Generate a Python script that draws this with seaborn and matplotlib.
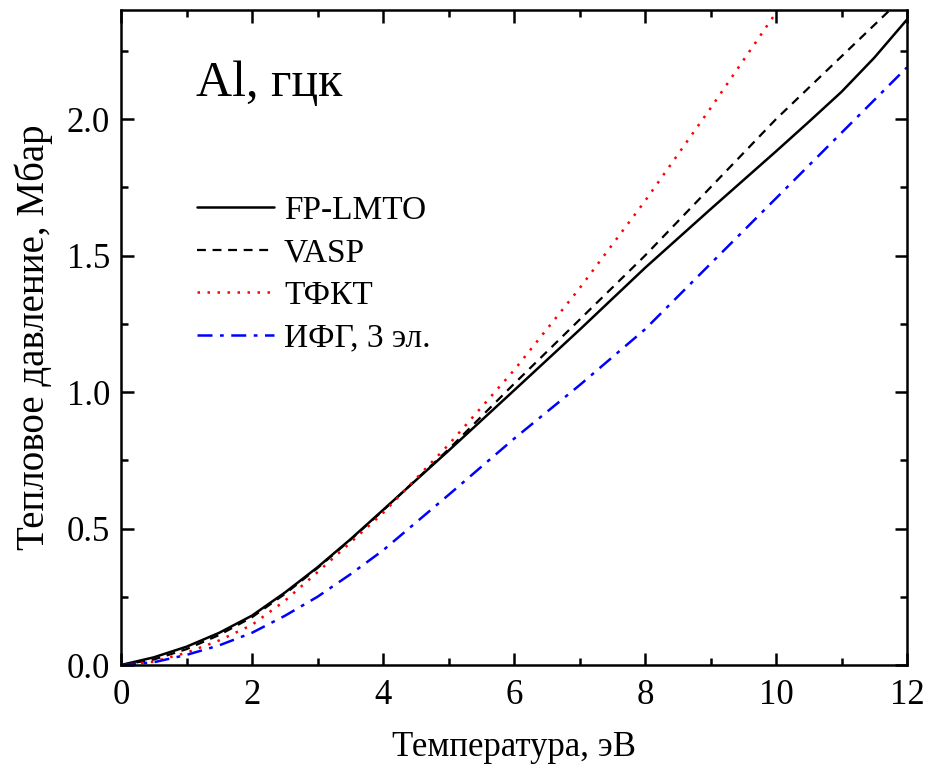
import numpy as np
import pandas as pd
import matplotlib
matplotlib.use("Agg")
import matplotlib.pyplot as plt
import seaborn as sns
from matplotlib.ticker import MultipleLocator

# Data
T = [0, 0.5, 1, 1.5, 2, 2.5, 3, 3.5, 4, 5, 6, 7, 8, 9, 10, 10.5, 11, 11.5, 12]
fp_lmto = [0, 0.028, 0.067, 0.118, 0.181, 0.265, 0.358, 0.46, 0.568, 0.785, 1.006, 1.228, 1.455, 1.67, 1.882, 1.99, 2.10, 2.225, 2.365]
vasp = [0, 0.020, 0.058, 0.110, 0.175, 0.260, 0.355, 0.458, 0.566, 0.790, 1.030, 1.265, 1.500, 1.750, 2.000, 2.115, 2.230, 2.345, 2.460]
tfkt = [0, 0.012, 0.045, 0.090, 0.147, 0.235, 0.340, 0.448, 0.557, 0.807, 1.080, 1.380, 1.700, 2.040, 2.390, 2.57, 2.75, 2.93, 3.1]
ifg = [0, 0.010, 0.037, 0.072, 0.118, 0.180, 0.250, 0.332, 0.420, 0.623, 0.829, 1.025, 1.230, 1.470, 1.710, 1.830, 1.950, 2.070, 2.190]

labels = ["FP-LMTO", "VASP", "ТФКТ", "ИФГ, 3 эл."]
series = [fp_lmto, vasp, tfkt, ifg]
colors = ["black", "black", "red", "blue"]
styles = ["-", (0, (4, 3)), (0, (1, 3)), (0, (6, 3, 1.5, 3))]
widths = [1.8, 1.6, 1.8, 1.8]

sns.set_style("ticks")
plt.rcParams["font.family"] = ["Liberation Serif", "DejaVu Serif"]
for k in ["text.color", "axes.labelcolor", "xtick.color", "ytick.color", "axes.edgecolor"]:
    plt.rcParams[k] = "black"

fig = plt.figure(figsize=(9.27, 7.64), dpi=100)
ax = fig.add_axes([121 / 927, 1 - 665 / 764, (907 - 121) / 927, (665 - 10) / 764])

for lab, vals, c, ls, lw in zip(labels, series, colors, styles, widths):
    df = pd.DataFrame({"T": T, "P": vals})
    sns.lineplot(data=df, x="T", y="P", ax=ax, color=c, linestyle=ls,
                 linewidth=lw, label=lab, legend=False)

ax.set_xlim(0, 12)
ax.set_ylim(0, 2.4)
ax.xaxis.set_major_locator(MultipleLocator(2))
ax.xaxis.set_minor_locator(MultipleLocator(1))
ax.yaxis.set_major_locator(MultipleLocator(0.5))
ax.yaxis.set_minor_locator(MultipleLocator(0.25))
ax.yaxis.set_major_formatter(matplotlib.ticker.FormatStrFormatter("%.1f"))
ax.tick_params(which="both", direction="in", top=True, right=True, width=1.8)
ax.tick_params(which="major", length=9, labelsize=25)
ax.tick_params(axis="x", which="major", pad=10)
ax.tick_params(axis="y", which="major", pad=8)
ax.tick_params(which="minor", length=5)
for sp in ax.spines.values():
    sp.set_linewidth(1.8)

ax.set_xlabel("Температура, эВ", fontsize=25, labelpad=14)
ax.set_ylabel("Тепловое давление, Мбар", fontsize=28, labelpad=10)

ax.text(0.095, 0.868, "Al, гцк", transform=ax.transAxes, fontsize=36,
        ha="left", va="baseline")

ax.legend(loc="upper left", bbox_to_anchor=(0.08, 0.737), frameon=False,
          fontsize=24, handlelength=2.3, handletextpad=0.3, labelspacing=0.36,
          borderaxespad=0)

fig.savefig("out.png", dpi=100)
